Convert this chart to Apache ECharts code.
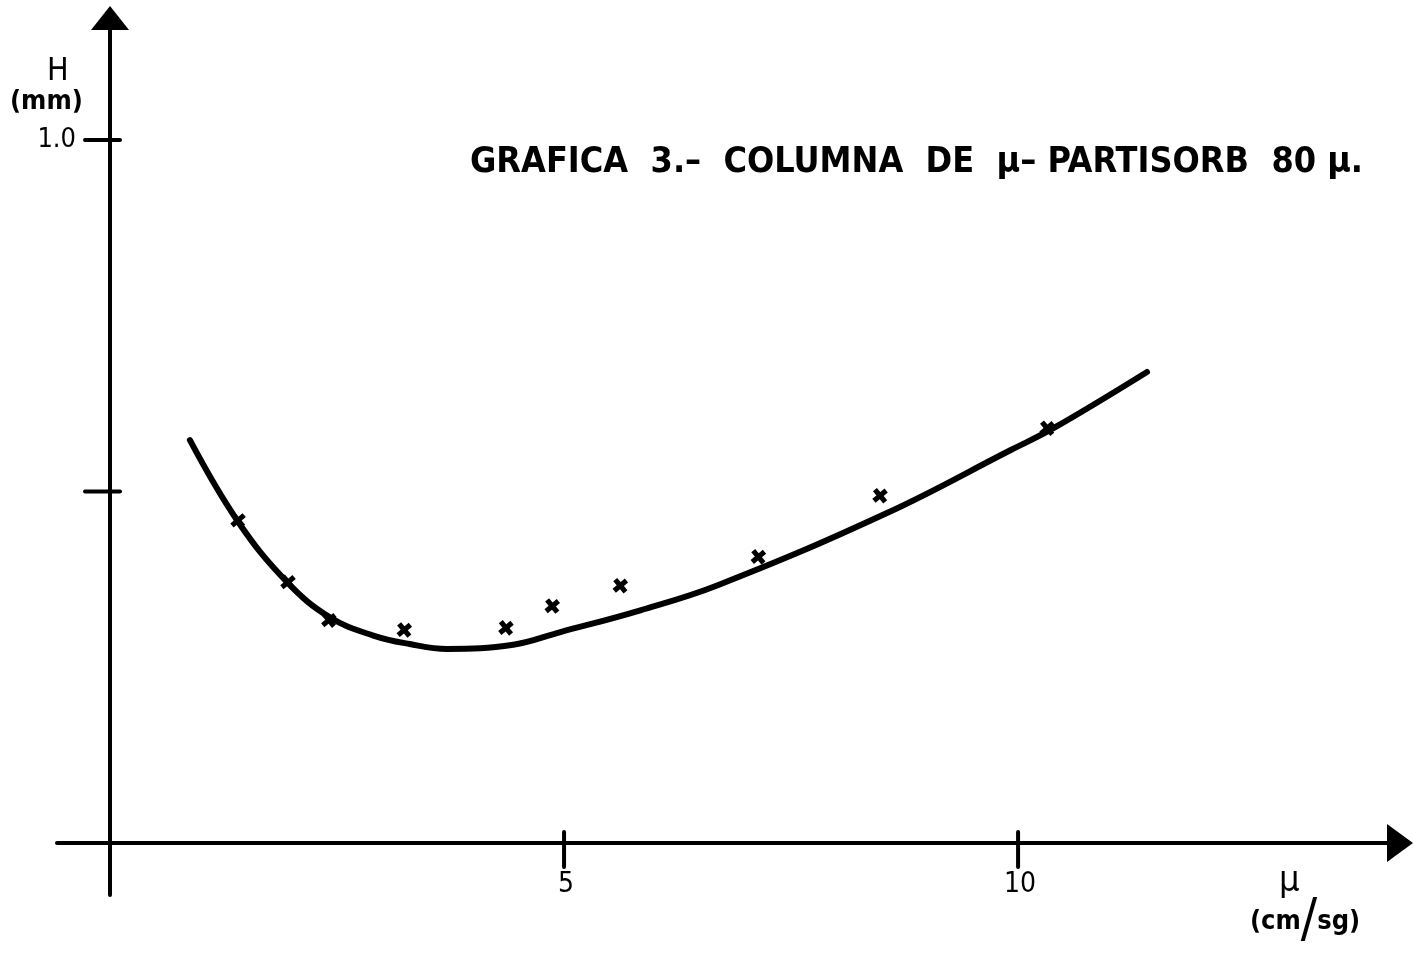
<!DOCTYPE html>
<html>
<head>
<meta charset="utf-8">
<title>Grafica 3</title>
<script src="https://cdn.jsdelivr.net/npm/echarts@6/dist/echarts.min.js"></script>
<style>
  html, body { margin: 0; padding: 0; background: #fff; }
  #chart { width: 1413px; height: 954px; }
</style>
</head>
<body>
<div id="chart"></div>
<script>
// Fitted curve H(u) drawn through the measurements
const curveU = [0.88, 1.41, 1.95, 2.42, 2.90, 3.30, 3.71, 4.44, 4.96, 5.84, 6.70, 8.55, 9.92, 10.39, 11.42];
const curveH = [0.573, 0.457, 0.371, 0.321, 0.295, 0.283, 0.276, 0.282, 0.300, 0.331, 0.367, 0.469, 0.559, 0.590, 0.670];

// Measured points (u in cm/sg, H in mm)
const pointU = [1.41, 1.96, 2.41, 3.24, 4.36, 4.87, 5.62, 7.14, 8.48, 10.32];
const pointH = [0.459, 0.371, 0.317, 0.303, 0.306, 0.337, 0.366, 0.407, 0.494, 0.590];

// Tick positions and labels
const xTicks = [5, 10];
const xTickLabels = ['5', '10'];
const yTicks = [0.5, 1.0];
const yTickLabels = ['', '1.0'];

const INK = '#000000';
const FONT = '"DejaVu Sans Condensed", "DejaVu Sans", sans-serif';

const chart = echarts.init(document.getElementById('chart'), null, { renderer: 'canvas' });

const tickData = xTicks.map((v, i) => [v, 0, 'x', xTickLabels[i]])
  .concat(yTicks.map((v, i) => [0, v, 'y', yTickLabels[i]]));

const option = {
  backgroundColor: '#ffffff',
  animation: false,
  grid: { left: 57, top: 18, width: 1343, height: 877, containLabel: false, outerBoundsMode: 'none' },
  xAxis: {
    type: 'value',
    min: -0.584,
    max: 14.206,
    splitLine: { show: false },
    axisTick: { show: false },
    axisLabel: { show: false },
    axisLine: {
      onZero: true,
      symbol: ['none', 'triangle'],
      symbolSize: [38, 26],
      lineStyle: { color: INK, width: 4, cap: 'round' }
    }
  },
  yAxis: {
    type: 'value',
    min: -0.074,
    max: 1.1735,
    splitLine: { show: false },
    axisTick: { show: false },
    axisLabel: { show: false },
    axisLine: {
      onZero: true,
      symbol: ['none', 'triangle'],
      symbolSize: [38, 24],
      lineStyle: { color: INK, width: 4, cap: 'round' }
    }
  },
  title: {
    text: 'GRAFICA  3.–  COLUMNA  DE  μ– PARTISORB  80 μ.',
    left: 465,
    top: 140,
    textStyle: {
      color: INK,
      fontFamily: FONT,
      fontWeight: 'bold',
      fontSize: 35.7
    }
  },
  graphic: [
    {
      type: 'text', left: 47, top: 56,
      style: { text: 'H', fill: INK, font: '32px ' + FONT }
    },
    {
      type: 'text', left: 10, top: 88,
      style: { text: '(mm)', fill: INK, font: 'bold 27px ' + FONT }
    },
    {
      type: 'text', left: 1279, top: 864,
      style: { text: 'μ', fill: INK, font: '36px ' + FONT }
    },
    {
      type: 'text', left: 1250, top: 895,
      style: {
        text: '(cm{s|/}sg)',
        fill: INK,
        font: 'bold 27px ' + FONT,
        rich: { s: { fontSize: 54, fontFamily: FONT, fill: INK, verticalAlign: 'middle' } }
      }
    }
  ],
  series: [
    {
      name: 'curva',
      type: 'line',
      data: curveU.map((u, i) => [u, curveH[i]]),
      smooth: 0.4,
      showSymbol: false,
      lineStyle: { color: INK, width: 6, cap: 'round', join: 'round' },
      z: 3
    },
    {
      name: 'puntos',
      type: 'scatter',
      data: pointU.map((u, i) => [u, pointH[i]]),
      symbol: 'path://M-1.6,-5 L1.6,-5 L1.6,-1.6 L5,-1.6 L5,1.6 L1.6,1.6 L1.6,5 L-1.6,5 L-1.6,1.6 L-5,1.6 L-5,-1.6 L-1.6,-1.6 Z',
      symbolSize: 16,
      symbolRotate: 40,
      itemStyle: { color: INK, opacity: 1 },
      z: 4
    },
    {
      name: 'ticks',
      type: 'custom',
      data: tickData,
      renderItem: (params, api) => {
        const d = tickData[params.dataIndex];
        const p = api.coord([api.value(0), api.value(1)]);
        const isX = d[2] === 'x';
        const shape = isX
          ? { x1: p[0], y1: p[1] - 11, x2: p[0], y2: p[1] + 24 }
          : { x1: p[0] - 25, y1: p[1], x2: p[0] + 10, y2: p[1] };
        const children = [{
          type: 'line',
          shape,
          style: { stroke: INK, lineWidth: 4, lineCap: 'round' }
        }];
        if (d[3]) {
          children.push({
            type: 'text',
            style: isX
              ? { text: d[3], x: p[0] + 2, y: p[1] + 42, align: 'center', verticalAlign: 'middle',
                  fill: INK, font: '28px ' + FONT }
              : { text: d[3], x: p[0] - 34, y: p[1], align: 'right', verticalAlign: 'middle',
                  fill: INK, font: '27px ' + FONT }
          });
        }
        return { type: 'group', children };
      },
      z: 2
    }
  ]
};

chart.setOption(option);
</script>
</body>
</html>
